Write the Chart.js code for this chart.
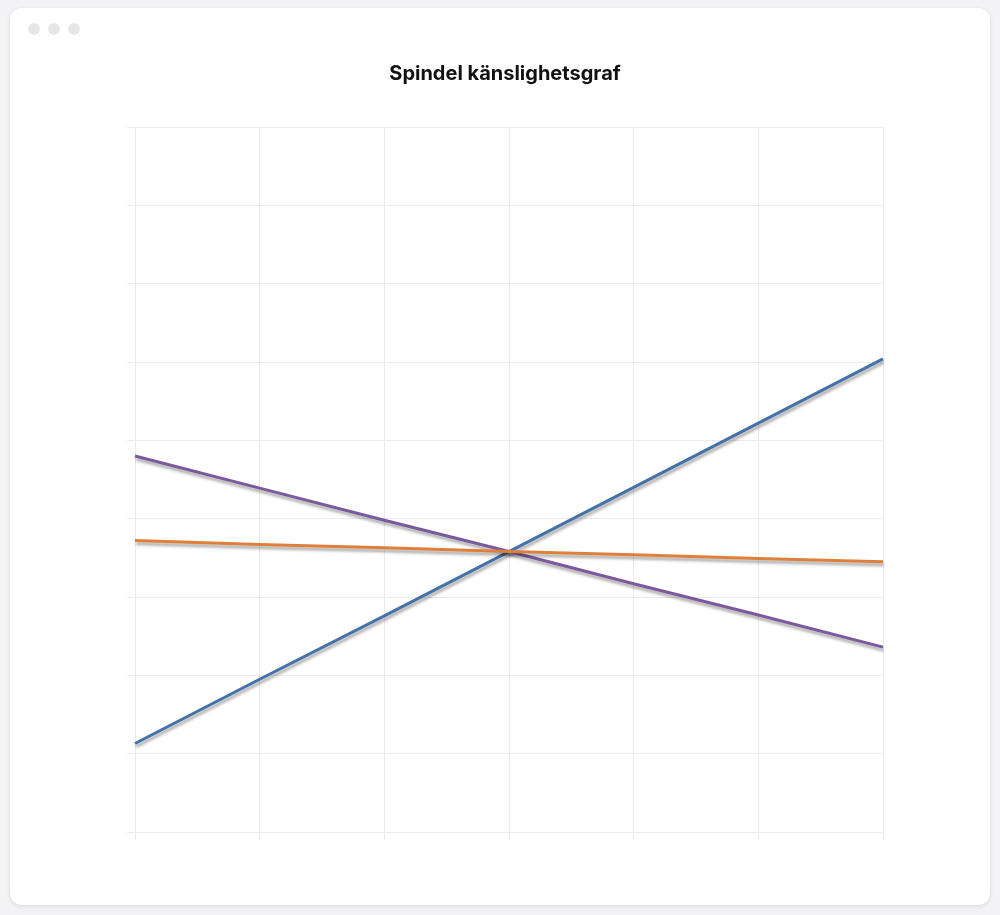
<!DOCTYPE html>
<html><head><meta charset="utf-8">
<script src="https://cdn.jsdelivr.net/npm/chart.js@4"></script>
<style>
html,body{margin:0;padding:0;background:#f3f3f5;width:1000px;height:915px;overflow:hidden;font-family:Inter,"Noto Sans",sans-serif}
#card{position:absolute;left:10px;top:8px;width:980px;height:897px;background:#fff;border-radius:12px;box-shadow:0 1px 4px rgba(0,0,0,0.12)}
.dot{position:absolute;top:15px;width:12px;height:12px;border-radius:50%;background:#e6e6e8}
#c{position:absolute;left:0;top:0}
</style></head><body>
<div id="card"><div class="dot" style="left:18px"></div><div class="dot" style="left:38px"></div><div class="dot" style="left:58px"></div></div>
<canvas id="c" width="1000" height="915" style="width:1000px;height:915px"></canvas>
<script>
const categories=["-30%","-20%","-10%","0%","10%","20%","30%"];
const blueValues=[1.13,1.95,2.76,3.58,4.40,5.22,6.04];
const purpleValues=[4.80,4.39,3.98,3.58,3.17,2.77,2.36];
const orangeValues=[3.72,3.67,3.63,3.58,3.54,3.49,3.45];
const shadow={id:'shadow',beforeDatasetsDraw(c){const x=c.ctx;x.save();x.shadowColor='rgba(0,0,0,0.35)';x.shadowOffsetX=1;x.shadowOffsetY=3;x.shadowBlur=3;},afterDatasetsDraw(c){c.ctx.restore();}};
new Chart(document.getElementById('c'),{type:'line',
data:{labels:categories,datasets:[
{label:'A',data:orangeValues,borderColor:'#e07f3a',borderWidth:3,pointRadius:0},
{label:'B',data:purpleValues,borderColor:'#7a5a9c',borderWidth:3,pointRadius:0},
{label:'C',data:blueValues,borderColor:'#4472a8',borderWidth:3,pointRadius:0}]},
plugins:[shadow],
options:{responsive:false,animation:false,devicePixelRatio:1,
layout:{padding:{left:127,right:117,top:62,bottom:75}},
plugins:{legend:{display:false},tooltip:{enabled:false},
title:{display:true,text:'Spindel känslighetsgraf',color:'#111',font:{family:'Inter',size:20,weight:'bold'},padding:{top:0,bottom:41}}},
scales:{x:{ticks:{display:false},grid:{color:'#ebebeb'},border:{color:'#ebebeb'}},
y:{min:0,max:9,ticks:{display:false,stepSize:1},grid:{color:'#ebebeb'},border:{color:'#ebebeb'}}}}});
</script>
</body></html>
